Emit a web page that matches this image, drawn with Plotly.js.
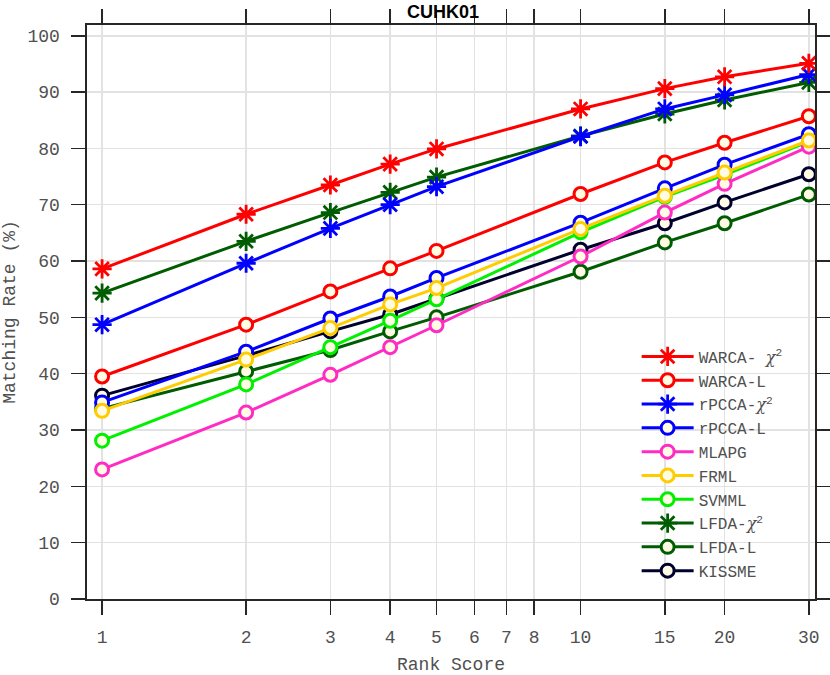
<!DOCTYPE html>
<html>
<head>
<meta charset="utf-8">
<script src="https://cdn.plot.ly/plotly-3.0.1.min.js"></script>
<style>html,body{margin:0;padding:0;background:#fff;}#chart{width:830px;height:675px;}</style>
</head>
<body>
<div id="chart"></div>
<script>
const ranks = [1, 2, 3, 4, 5, 10, 15, 20, 30];
const xTickVals = [1, 2, 3, 4, 5, 6, 7, 8, 10, 15, 20, 30];
const yTickVals = [0, 10, 20, 30, 40, 50, 60, 70, 80, 90, 100];

const warcaChi = [58.6, 68.3, 73.5, 77.2, 79.9, 87.0, 90.6, 92.7, 95.1];
const warcaL   = [39.5, 48.7, 54.6, 58.7, 61.8, 71.9, 77.5, 81.0, 85.7];
const rpccaChi = [48.7, 59.6, 65.8, 70.0, 73.2, 82.1, 87.0, 89.5, 93.1];
const rpccaL   = [34.9, 43.9, 49.8, 53.7, 57.0, 66.8, 72.9, 77.1, 82.5];
const mlapg    = [23.0, 33.1, 39.8, 44.7, 48.6, 60.8, 68.6, 73.7, 80.3];
const frml     = [33.4, 42.5, 48.1, 52.3, 55.2, 65.7, 71.6, 75.7, 81.4];
const svmml    = [28.1, 38.1, 44.7, 49.4, 53.2, 65.1, 71.4, 75.3, 81.2];
const lfdaChi  = [54.3, 63.5, 68.6, 72.2, 74.9, 82.2, 86.1, 88.6, 91.7];
const lfdaL    = [33.8, 40.4, 44.2, 47.5, 50.0, 58.1, 63.3, 66.7, 71.8];
const kissme   = [36.1, 43.2, 47.5, 50.5, 53.3, 62.0, 66.7, 70.4, 75.4];

const chi = '<span style="font-family:\'DejaVu Serif\'"><i>χ</i></span><sup>2</sup>';
const face = '#FFFCE3';
const mono = '"Liberation Mono", "Courier New", monospace';
const textGrey = '#505050';

function tr(name, y, color, star, rank) {
  const marker = star
    ? {symbol: 'asterisk-open', size: 16, color: color, line: {color: color, width: 2.8}}
    : {symbol: 'circle', size: 13, color: face, line: {color: color, width: 3}};
  return {x: ranks, y: y, name: name, type: 'scatter', mode: 'lines+markers',
          line: {color: color, width: 3}, marker: marker, legendrank: rank};
}

// draw order (bottom to top)
const traces = [
  tr('KISSME', kissme, '#00002E', false, 10),
  tr('LFDA-L', lfdaL, '#005C00', false, 9),
  tr('LFDA-' + chi, lfdaChi, '#005C00', true, 8),
  tr('SVMML', svmml, '#00F000', false, 7),
  tr('MLAPG', mlapg, '#FF2CC4', false, 5),
  tr('rPCCA-L', rpccaL, '#0000FF', false, 4),
  tr('FRML', frml, '#FFCC00', false, 6),
  tr('rPCCA-' + chi, rpccaChi, '#0000FF', true, 3),
  tr('WARCA-L', warcaL, '#FF0000', false, 2),
  tr('WARCA- ' + chi, warcaChi, '#FF0000', true, 1)
];

const axisCommon = {
  showline: true, linecolor: '#262626', linewidth: 1.6, mirror: 'ticks',
  ticks: 'outside', ticklen: 14, tickwidth: 1.6, tickcolor: '#262626',
  showgrid: true, gridcolor: '#E2E2E2', gridwidth: 1.6, zeroline: false,
  tickfont: {family: mono, size: 18, color: textGrey},
  automargin: false
};

const layout = {
  width: 830, height: 675,
  margin: {l: 87, r: 15, t: 25, b: 76},
  paper_bgcolor: '#fff', plot_bgcolor: '#fff',
  showlegend: true,
  title: {text: '<b>CUHK01</b>', font: {family: '"Liberation Sans", Arial, sans-serif', size: 18, color: '#000'},
          x: 0.489, xref: 'paper', xanchor: 'center', y: 0.983, yref: 'container', yanchor: 'middle'},
  xaxis: Object.assign({}, axisCommon, {
    type: 'log', range: [Math.log10(0.93), Math.log10(30.9)],
    tickmode: 'array', tickvals: xTickVals, ticktext: xTickVals.map(String),
    ticklabelstandoff: 7,
    title: {text: 'Rank Score', font: {family: mono, size: 18, color: textGrey}, standoff: 10}
  }),
  yaxis: Object.assign({}, axisCommon, {
    range: [0, 101.9],
    tickmode: 'array', tickvals: yTickVals, ticktext: yTickVals.map(String),
    ticklabelstandoff: 8,
    title: {text: 'Matching Rate (%)', font: {family: mono, size: 18, color: textGrey}, standoff: 10}
  }),
  legend: {x: 0.755, xanchor: 'left', y: 0.452, yanchor: 'top',
           bgcolor: 'rgba(0,0,0,0)', borderwidth: 0, itemwidth: 52,
           font: {family: mono, size: 16, color: textGrey}, tracegroupgap: 0}
};

Plotly.newPlot('chart', traces, layout, {displayModeBar: false, staticPlot: true});
</script>
</body>
</html>
